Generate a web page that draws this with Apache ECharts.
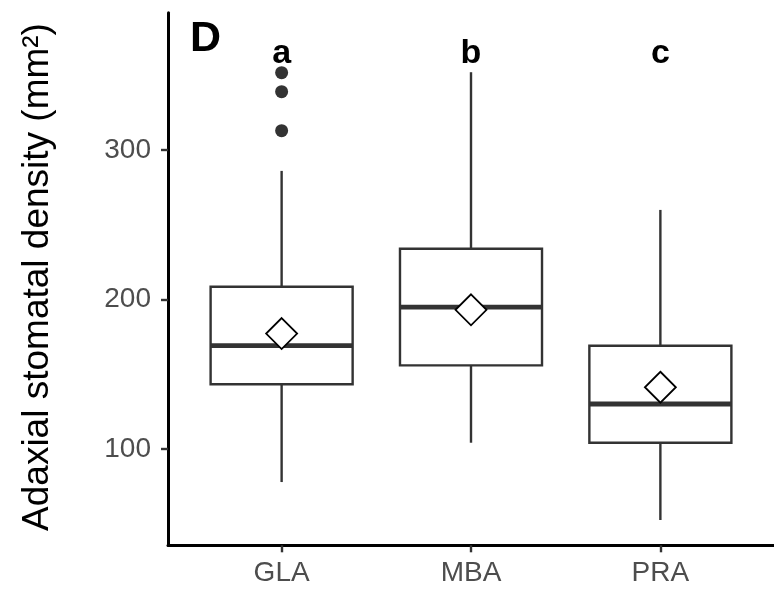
<!DOCTYPE html>
<html>
<head>
<meta charset="utf-8">
<script src="https://cdn.jsdelivr.net/npm/echarts@6/dist/echarts.min.js"></script>
<style>html,body{margin:0;padding:0;background:#fff}#c{width:774px;height:591px}</style>
</head>
<body>
<div id="c"></div>
<script>
// ---- data ----
const categories = ['GLA', 'MBA', 'PRA'];
const whiskerLow  = [77.9, 104.2, 52.5];
const q1          = [143.3, 155.9, 104.2];
const median      = [169.1, 194.9, 130.1];
const q3          = [208.5, 233.9, 169.1];
const whiskerHigh = [286.0, 352.0, 259.9];
const means       = [177.2, 193.1, 141.3];
const outlierCat  = [0, 0, 0];
const outlierVal  = [351.7, 339.0, 312.9];
const letters     = ['a', 'b', 'c'];
const letterY     = 364.5;
const yTicks      = [100, 200, 300];
const panelTag    = 'D';
const yTitle      = 'Adaxial stomatal density (mm²)';

const FONT = '"Liberation Sans", Arial, Helvetica, sans-serif';

const boxData = categories.map((c, i) => [i + 1, whiskerLow[i], q1[i], median[i], q3[i], whiskerHigh[i]]);
const meanData = categories.map((c, i) => [i + 1, means[i]]);
const outlierData = outlierVal.map((v, i) => [outlierCat[i] + 1, v]);
const letterData = letters.map((l, i) => [i + 1, letterY, l]);

const chart = echarts.init(document.getElementById('c'), null, {renderer: 'canvas'});

chart.setOption({
  backgroundColor: '#fff',
  animation: false,
  grid: {left: 168, top: 12.7, width: 610, height: 532.6, containLabel: false},
  xAxis: {
    type: 'value', min: 0.4, max: 3.6,
    splitLine: {show: false},
    axisLine: {show: true, onZero: false, lineStyle: {color: '#000', width: 3}},
    axisTick: {show: true, length: 7, lineStyle: {color: '#333', width: 2.4}, customValues: [1, 2, 3]},
    axisLabel: {
      customValues: [1, 2, 3], margin: 14,
      color: '#4d4d4d', fontSize: 28, fontFamily: FONT,
      formatter: v => categories[Math.round(v) - 1] || ''
    }
  },
  yAxis: {
    type: 'value', min: 35.6, max: 391.8,
    splitLine: {show: false},
    axisLine: {show: true, onZero: false, lineStyle: {color: '#000', width: 3}},
    axisTick: {show: true, length: 7, lineStyle: {color: '#333', width: 2.4}, customValues: yTicks},
    axisLabel: {customValues: yTicks, margin: 17, color: '#4d4d4d', fontSize: 28, fontFamily: FONT}
  },
  graphic: [
    {type: 'text', x: 190, y: 39, style: {text: panelTag, font: 'bold 43px ' + FONT, fill: '#000', textAlign: 'left', textVerticalAlign: 'middle'}},
    {type: 'text', x: 38, y: 277, rotation: Math.PI / 2, style: {text: yTitle, font: '37px ' + FONT, fill: '#000', textAlign: 'center', textVerticalAlign: 'middle'}}
  ],
  series: [
    {
      type: 'custom',
      data: boxData,
      encode: {x: 0, y: [1, 2, 3, 4, 5]},
      z: 2,
      renderItem: function (params, api) {
        const x = api.value(0);
        const pLow = api.coord([x, api.value(1)]);
        const pQ1 = api.coord([x, api.value(2)]);
        const pMed = api.coord([x, api.value(3)]);
        const pQ3 = api.coord([x, api.value(4)]);
        const pHigh = api.coord([x, api.value(5)]);
        const hw = api.size([0.75, 0])[0] / 2;
        const stroke = {stroke: '#333', lineWidth: 2.4, fill: null};
        return {
          type: 'group',
          children: [
            {type: 'line', shape: {x1: pLow[0], y1: pLow[1], x2: pQ1[0], y2: pQ1[1]}, style: stroke},
            {type: 'line', shape: {x1: pQ3[0], y1: pQ3[1], x2: pHigh[0], y2: pHigh[1]}, style: stroke},
            {type: 'rect', shape: {x: pQ3[0] - hw, y: pQ3[1], width: hw * 2, height: pQ1[1] - pQ3[1]}, style: {stroke: '#333', lineWidth: 2.4, fill: '#fff'}},
            {type: 'line', shape: {x1: pMed[0] - hw, y1: pMed[1], x2: pMed[0] + hw, y2: pMed[1]}, style: {stroke: '#333', lineWidth: 4.8}}
          ]
        };
      }
    },
    {
      type: 'scatter',
      data: outlierData,
      symbol: 'circle', symbolSize: 13,
      itemStyle: {color: '#333', opacity: 1},
      z: 3
    },
    {
      type: 'scatter',
      data: meanData,
      symbol: 'diamond', symbolSize: 31,
      itemStyle: {color: '#fff', borderColor: '#000', borderWidth: 1.8, opacity: 1},
      z: 4
    },
    {
      type: 'custom',
      data: letterData,
      encode: {x: 0, y: 1},
      z: 5,
      renderItem: function (params, api) {
        const p = api.coord([api.value(0), api.value(1)]);
        return {type: 'text', x: p[0], y: p[1], style: {text: letters[params.dataIndex], font: 'bold 34px ' + FONT, fill: '#000', textAlign: 'center', textVerticalAlign: 'middle'}};
      }
    }
  ]
});
</script>
</body>
</html>
